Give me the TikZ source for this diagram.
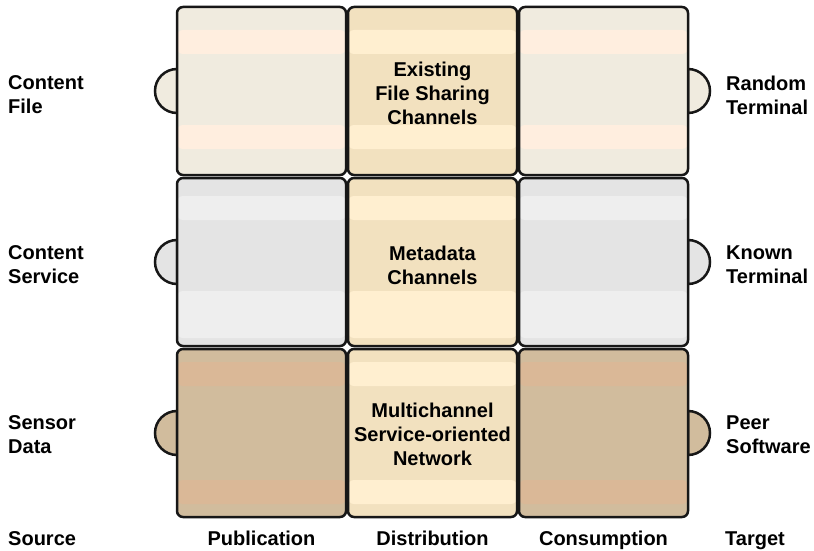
\documentclass[tikz,border=0pt]{standalone}
\usepackage{fontspec}
\setmainfont{Liberation Sans}
\pgfdeclarelayer{background}
\pgfsetlayers{background,main}

\definecolor{edgeline}{HTML}{171717}
\definecolor{fileA}{HTML}{F0EBDF}
\definecolor{fileB}{HTML}{FFEEDF}
\definecolor{chanA}{HTML}{F2E1BF}
\definecolor{chanB}{HTML}{FFEFD0}
\definecolor{servA}{HTML}{E4E4E4}
\definecolor{servB}{HTML}{EEEEEE}
\definecolor{sensA}{HTML}{D1BC9D}
\definecolor{sensB}{HTML}{DAB897}

\begin{document}
\begin{tikzpicture}[x=1pt, y=-1pt,
  txt/.style={font=\bfseries\fontsize{20}{24}\selectfont},
  cell/.style={draw=edgeline, line width=2.5pt, rounded corners=6pt,
    minimum width=169pt, minimum height=168pt, inner sep=0pt, outer sep=0pt,
    anchor=north west},
  % two horizontal bands, offsets measured from the top of the cell
  stripes/.style n args={5}{path picture={
    \fill[#1] ([yshift=-#2pt]path picture bounding box.north west)
      rectangle ([yshift=-#3pt]path picture bounding box.north east);
    \fill[#1] ([yshift=-#4pt]path picture bounding box.north west)
      rectangle ([yshift=-#5pt]path picture bounding box.north east);}},
  tab/.style={draw=edgeline, line width=2.5pt},
  celltext/.style={txt, align=center, inner sep=0pt},
  sidetext/.style={txt, align=left, anchor=west, inner sep=0pt},
  foottext/.style={txt, anchor=base, inner sep=0pt}]

\useasboundingbox (0,0) rectangle (814,551);

% row 1: content files
\node[cell, fill=fileA, stripes={fileB}{23}{47}{118}{142}] (c11) at (177,7) {};
\node[cell, fill=chanA, stripes={chanB}{23}{47}{118}{142}] (c12) at (348,7) {};
\node[cell, fill=fileA, stripes={fileB}{23}{47}{118}{142}] (c13) at (519,7) {};

% row 2: content services
\node[cell, fill=servA, stripes={servB}{18}{42}{113}{160}] (c21) at (177,178) {};
\node[cell, fill=chanA, stripes={chanB}{18}{42}{113}{160}] (c22) at (348,178) {};
\node[cell, fill=servA, stripes={servB}{18}{42}{113}{160}] (c23) at (519,178) {};

% row 3: sensor data
\node[cell, fill=sensA, stripes={sensB}{13}{37}{131}{155}] (c31) at (177,349) {};
\node[cell, fill=chanA, stripes={chanB}{13}{37}{131}{155}] (c32) at (348,349) {};
\node[cell, fill=sensA, stripes={sensB}{13}{37}{131}{155}] (c33) at (519,349) {};

% channel names in the distribution column
\node[celltext] (m1) at ([yshift=-2.5pt]c12.center) {Existing\\File Sharing\\Channels};
\node[celltext] (m2) at ([yshift=-3.5pt]c22.center) {Metadata\\Channels};
\node[celltext] (m3) at ([yshift=-1pt]c32.center) {Multichannel\\Service-oriented\\Network};

% half-round tabs behind the outer cells
\begin{pgfonlayer}{background}
  \filldraw[tab, fill=fileA] ([yshift=22pt]c11.west) arc[start angle=90, end angle=270, radius=22pt] -- cycle;
  \filldraw[tab, fill=servA] ([yshift=22pt]c21.west) arc[start angle=90, end angle=270, radius=22pt] -- cycle;
  \filldraw[tab, fill=sensA] ([yshift=22pt]c31.west) arc[start angle=90, end angle=270, radius=22pt] -- cycle;
  \filldraw[tab, fill=fileA] ([yshift=22pt]c13.east) arc[start angle=90, end angle=-90, radius=22pt] -- cycle;
  \filldraw[tab, fill=servA] ([yshift=22pt]c23.east) arc[start angle=90, end angle=-90, radius=22pt] -- cycle;
  \filldraw[tab, fill=sensA] ([yshift=22pt]c33.east) arc[start angle=90, end angle=-90, radius=22pt] -- cycle;
\end{pgfonlayer}

% sources and targets
\node[sidetext] (s1) at (8,95) {Content\\File};
\node[sidetext] (s2) at (8,265) {Content\\Service};
\node[sidetext] (s3) at (8,435) {Sensor\\Data};
\node[sidetext] (t1) at (726,95) {Random\\Terminal};
\node[sidetext] (t2) at (726,265) {Known\\Terminal};
\node[sidetext] (t3) at (726,435) {Peer\\Software};

% column captions
\node[foottext, anchor=base west] (fsrc) at (8,545) {Source};
\node[foottext] (fpub) at (261.5,545) {Publication};
\node[foottext] (fdis) at (432.5,545) {Distribution};
\node[foottext] (fcon) at (603.5,545) {Consumption};
\node[foottext, anchor=base west] (ftgt) at (725,545) {Target};
\end{tikzpicture}
\end{document}
